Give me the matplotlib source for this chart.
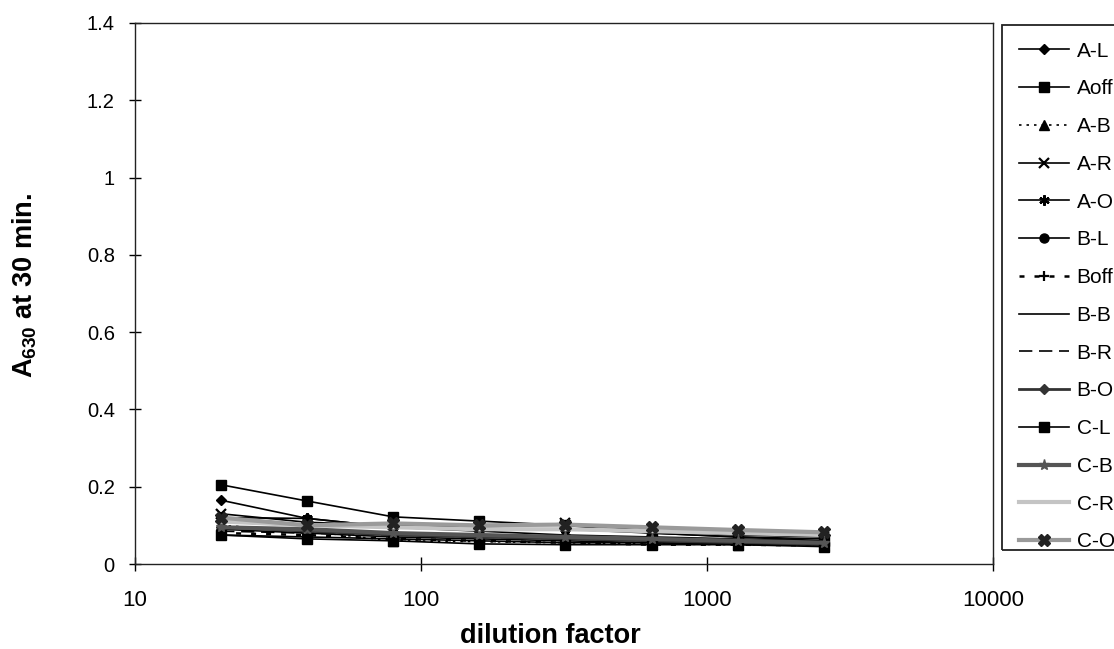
import matplotlib
matplotlib.use("Agg")
import matplotlib.pyplot as plt
from matplotlib.ticker import FixedLocator, FuncFormatter, NullLocator
from matplotlib.patches import Rectangle

plt.rcParams['font.family'] = ['Liberation Sans', 'DejaVu Sans']

dilution = [20, 40, 80, 160, 320, 640, 1280, 2560]

series_names = ["A-L", "Aoff", "A-B", "A-R", "A-O", "B-L", "Boff",
                "B-B", "B-R", "B-O", "C-L", "C-B", "C-R", "C-O"]

a_l  = [0.165, 0.118, 0.095, 0.085, 0.075, 0.070, 0.065, 0.060]
a_off = [0.205, 0.163, 0.122, 0.111, 0.100, 0.080, 0.070, 0.060]
a_b  = [0.100, 0.085, 0.060, 0.058, 0.055, 0.052, 0.050, 0.050]
a_r  = [0.130, 0.108, 0.100, 0.095, 0.105, 0.085, 0.075, 0.070]
a_o  = [0.120, 0.118, 0.095, 0.090, 0.090, 0.080, 0.070, 0.065]
b_l  = [0.075, 0.070, 0.065, 0.060, 0.055, 0.055, 0.050, 0.050]
b_off = [0.080, 0.075, 0.065, 0.060, 0.055, 0.050, 0.050, 0.048]
b_b  = [0.090, 0.080, 0.070, 0.065, 0.060, 0.055, 0.052, 0.050]
b_r  = [0.085, 0.080, 0.075, 0.070, 0.065, 0.060, 0.055, 0.050]
b_o  = [0.095, 0.085, 0.075, 0.070, 0.065, 0.060, 0.055, 0.050]
c_l  = [0.075, 0.065, 0.060, 0.052, 0.050, 0.050, 0.050, 0.045]
c_b  = [0.095, 0.090, 0.080, 0.075, 0.070, 0.065, 0.060, 0.055]
c_r  = [0.110, 0.100, 0.095, 0.090, 0.090, 0.085, 0.080, 0.075]
c_o  = [0.120, 0.100, 0.105, 0.100, 0.102, 0.095, 0.088, 0.082]

values = [a_l, a_off, a_b, a_r, a_o, b_l, b_off, b_b, b_r, b_o, c_l, c_b, c_r, c_o]

styles = [
    dict(color='black', lw=1.2, ls='-', marker='D', ms=5),
    dict(color='black', lw=1.2, ls='-', marker='s', ms=6.5),
    dict(color='black', lw=1.2, ls=(0, (1.5, 3)), marker='^', ms=6.5),
    dict(color='black', lw=1.2, ls='-', marker='x', ms=6.5, mew=1.6),
    dict(color='black', lw=1.2, ls='-', marker=(6, 2, 0), ms=7.5, mew=1.6),
    dict(color='black', lw=1.2, ls='-', marker='o', ms=6.5),
    dict(color='black', lw=1.8, ls=(0, (2, 4)), marker='+', ms=7.5, mew=1.6),
    dict(color='black', lw=1.2, ls='-', marker=None),
    dict(color='black', lw=1.2, ls=(0, (8, 4)), marker=None),
    dict(color='#333333', lw=2.0, ls='-', marker='D', ms=5.5),
    dict(color='black', lw=1.2, ls='-', marker='s', ms=6.5),
    dict(color='#555555', lw=3.0, ls='-', marker='*', ms=8),
    dict(color='#c4c4c4', lw=3.0, ls='-', marker=None),
    dict(color='#9a9a9a', lw=3.0, ls='-', marker='X', ms=8, mfc='#222222', mec='#222222'),
]

fig = plt.figure(figsize=(11.14, 6.49), dpi=100)
W, H = 1114, 649
ax = fig.add_axes([135 / W, 1 - 564 / H, (993 - 135) / W, (564 - 23) / H])

for name, vals, st in zip(series_names, values, styles):
    st = dict(st)
    color = st.pop('color')
    kw = dict(color=color, linewidth=st.pop('lw'), linestyle=st.pop('ls'))
    mk = st.pop('marker')
    if mk is not None:
        kw['marker'] = mk
        kw['markersize'] = st.pop('ms')
        kw['markerfacecolor'] = st.pop('mfc', color)
        kw['markeredgecolor'] = st.pop('mec', color)
        kw['markeredgewidth'] = st.pop('mew', 1.0)
    ax.plot(dilution, vals, label=name, **kw)

ax.set_xscale('log')
ax.set_xlim(10, 10000)
ax.set_ylim(0, 1.4)
ax.xaxis.set_major_locator(FixedLocator([10, 100, 1000, 10000]))
ax.xaxis.set_minor_locator(NullLocator())
ax.xaxis.set_major_formatter(FuncFormatter(lambda v, p: f"{int(v)}"))
yt = [0, 0.2, 0.4, 0.6, 0.8, 1.0, 1.2, 1.4]
ax.yaxis.set_major_locator(FixedLocator(yt))
ax.yaxis.set_major_formatter(FuncFormatter(lambda v, p: f"{v:g}"))
ax.tick_params(axis='x', direction='inout', length=10, width=1, labelsize=16, pad=14)
ax.tick_params(axis='y', direction='inout', length=9, width=1, labelsize=14.5, pad=10)

for sp in ax.spines.values():
    sp.set_linewidth(1.0)
    sp.set_color('#222222')

ax.set_xlabel('dilution factor', fontsize=19.5, fontweight='bold')
ax.xaxis.set_label_coords((550 - 135) / (993 - 135), -(636 - 564) / (564 - 23))
ax.xaxis.label.set_va('center')
ax.set_ylabel(r'A$_{\mathregular{630}}$ at 30 min.', fontsize=19.5, fontweight='bold')
ax.yaxis.set_label_coords(-(135 - 39) / (993 - 135), (564 - 285) / (564 - 23))

leg = fig.legend(loc='upper left', bbox_to_anchor=(1002 / W, 1 - 25 / H),
                 fontsize=15, handlelength=2.4, handletextpad=0.38,
                 borderpad=0.8, labelspacing=0.9, frameon=False,
                 borderaxespad=0)

fig.patches.append(Rectangle((1002 / W, 1 - 550 / H), 130 / W, (550 - 25) / H,
                             transform=fig.transFigure, fill=False,
                             edgecolor='#222222', linewidth=1.3))

fig.savefig('out.png', dpi=100)
